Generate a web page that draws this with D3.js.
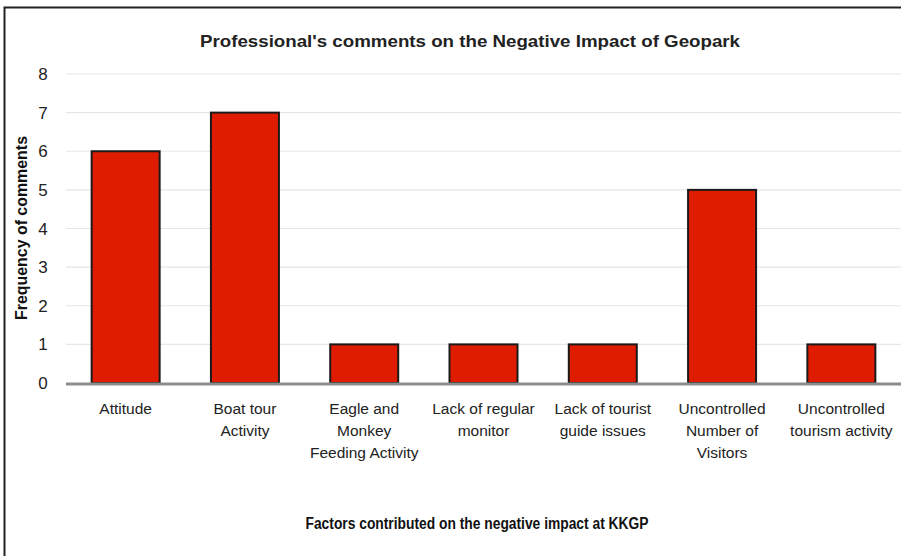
<!DOCTYPE html>
<html lang="en">
<head>
<meta charset="UTF-8">
<title>Negative Impact of Geopark</title>
<script src="https://cdn.jsdelivr.net/npm/d3@7"></script>
<style>
    body { margin: 0; background: #fff; }
    svg { display: block; font-family: "Liberation Sans", Arial, sans-serif; }
</style>
</head>
<body>
<svg width="901" height="556"></svg>
<script>
// data
var categories = [
    "Attitude",
    "Boat tour Activity",
    "Eagle and Monkey Feeding Activity",
    "Lack of regular monitor",
    "Lack of tourist guide issues",
    "Uncontrolled Number of Visitors",
    "Uncontrolled tourism activity"
];
var labelLines = [
    ["Attitude"],
    ["Boat tour", "Activity"],
    ["Eagle and", "Monkey", "Feeding Activity"],
    ["Lack of regular", "monitor"],
    ["Lack of tourist", "guide issues"],
    ["Uncontrolled", "Number of", "Visitors"],
    ["Uncontrolled", "tourism activity"]
];
var counts = [6, 7, 1, 1, 1, 5, 1];
var yTicks = [0, 1, 2, 3, 4, 5, 6, 7, 8];

var svg = d3.select("svg");

// outer frame
svg.append("rect")
    .attr("x", 4.5).attr("y", 7.5)
    .attr("width", 910).attr("height", 560)
    .attr("fill", "none")
    .attr("stroke", "#222")
    .attr("stroke-width", 2);

var x = d3.scaleBand()
    .domain(categories)
    .range([66, 901])
    .paddingInner(0.43)
    .paddingOuter(0.215);

var y = d3.scaleLinear()
    .domain([0, 8])
    .range([383, 74]);

// gridlines
svg.append("g")
    .selectAll("line")
    .data(yTicks.filter(function (d) { return d > 0; }))
    .join("line")
    .attr("x1", 66).attr("x2", 901)
    .attr("y1", function (d) { return y(d); })
    .attr("y2", function (d) { return y(d); })
    .attr("stroke", "#e6e6e6")
    .attr("stroke-width", 1.2);

// y tick labels
svg.append("g")
    .selectAll("text")
    .data(yTicks)
    .join("text")
    .attr("x", 43)
    .attr("y", function (d) { return y(d); })
    .attr("dy", "0.36em")
    .attr("text-anchor", "middle")
    .attr("font-size", 17)
    .attr("fill", "#222")
    .text(function (d) { return d; });

// bars
svg.append("g")
    .selectAll("rect")
    .data(counts)
    .join("rect")
    .attr("x", function (d, i) { return x(categories[i]); })
    .attr("y", function (d) { return y(d); })
    .attr("width", x.bandwidth())
    .attr("height", function (d) { return y(0) - y(d); })
    .attr("fill", "#e01c00")
    .attr("stroke", "#1a1a1a")
    .attr("stroke-width", 2);

// baseline
svg.append("line")
    .attr("x1", 66).attr("x2", 901)
    .attr("y1", y(0) + 1).attr("y2", y(0) + 1)
    .attr("stroke", "#8c8c8c")
    .attr("stroke-width", 3);

// x labels
var xl = svg.append("g")
    .selectAll("text")
    .data(labelLines)
    .join("text")
    .attr("x", function (d, i) { return x(categories[i]) + x.bandwidth() / 2; })
    .attr("y", 414)
    .attr("text-anchor", "middle")
    .attr("font-size", 15.5)
    .attr("fill", "#222");
xl.selectAll("tspan")
    .data(function (d) { return d; })
    .join("tspan")
    .attr("x", function () { return d3.select(this.parentNode).attr("x"); })
    .attr("dy", function (d, i) { return i === 0 ? 0 : 22; })
    .text(function (d) { return d; });

// title
svg.append("text")
    .attr("x", 470).attr("y", 47)
    .attr("text-anchor", "middle")
    .attr("font-size", 17)
    .attr("font-weight", "bold")
    .attr("fill", "#222")
    .attr("textLength", 540)
    .attr("lengthAdjust", "spacingAndGlyphs")
    .text("Professional's comments on the Negative Impact of Geopark");

// y axis title
svg.append("text")
    .attr("transform", "translate(27,228) rotate(-90)")
    .attr("text-anchor", "middle")
    .attr("font-size", 16)
    .attr("font-weight", "bold")
    .attr("fill", "#111")
    .attr("textLength", 184)
    .attr("lengthAdjust", "spacingAndGlyphs")
    .text("Frequency of comments");

// x axis title
svg.append("text")
    .attr("x", 477).attr("y", 529)
    .attr("text-anchor", "middle")
    .attr("font-size", 16)
    .attr("font-weight", "bold")
    .attr("fill", "#111")
    .attr("textLength", 343)
    .attr("lengthAdjust", "spacingAndGlyphs")
    .text("Factors contributed on the negative impact at KKGP");
</script>
</body>
</html>
